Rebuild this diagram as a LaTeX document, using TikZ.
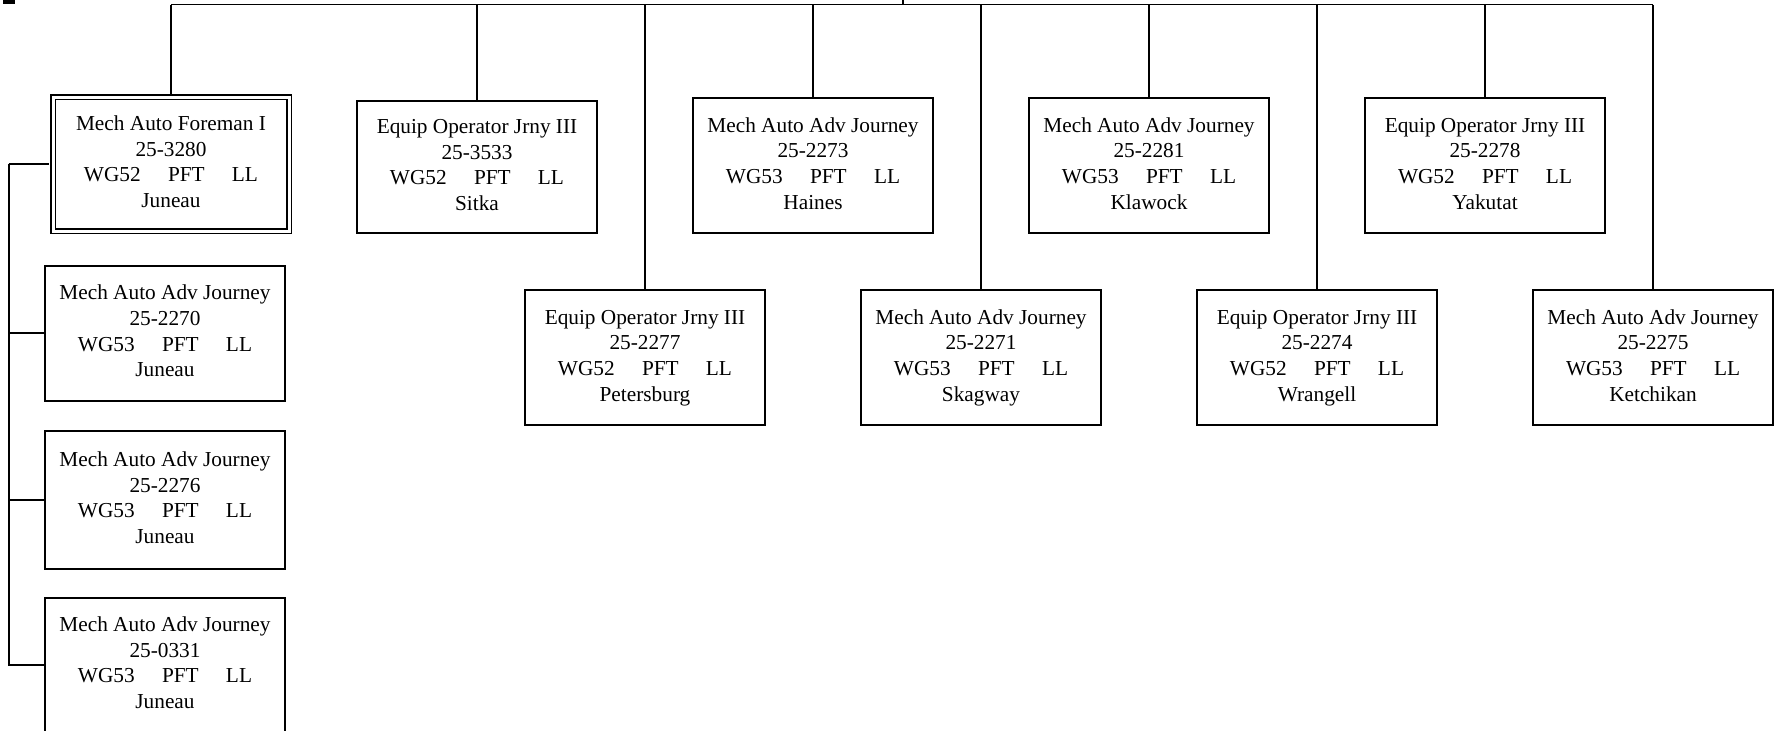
\documentclass[tikz,border=0pt]{standalone}
\usepackage{fontspec}
\setmainfont{Liberation Serif}
\newcommand\jobtext[4]{\begin{tabular}[t]{@{}c@{}}#1\\#2\\\mbox{#3\hspace{1.28em}PFT\hspace{1.28em}LL}\\#4\end{tabular}}
\begin{document}
\begin{tikzpicture}[x=0.5pt,y=-0.5pt,
  box/.style={draw, line width=1pt, rectangle, inner sep=0pt,
    minimum width=120pt, minimum height=67.5pt,
    font=\fontsize{10.65}{12.8}\selectfont},
  dbox/.style={box, line width=0.75pt, double, double distance=1.5pt,
    minimum width=118pt, minimum height=67pt},
  conn/.style={draw, line width=0.9pt}]
\useasboundingbox (0,0) rectangle (1782,730);
\clip (0,0) rectangle (1782,730);

% small cut-off mark at top-left
\fill (3,0) rectangle (15,3.5);

% nodes
\node[dbox] (fore) at (171,164) {\jobtext{Mech Auto Foreman I}{25-3280}{WG52}{Juneau}};
\node[box, minimum height=66pt] (sitka) at (477,167) {\jobtext{Equip Operator Jrny III}{25-3533}{WG52}{Sitka}};
\node[box] (haines) at (813,165.5) {\jobtext{Mech Auto Adv Journey}{25-2273}{WG53}{Haines}};
\node[box] (klawock) at (1149,165.5) {\jobtext{Mech Auto Adv Journey}{25-2281}{WG53}{Klawock}};
\node[box] (yakutat) at (1485,165.5) {\jobtext{Equip Operator Jrny III}{25-2278}{WG52}{Yakutat}};

\node[box] (peters) at (645,357.5) {\jobtext{Equip Operator Jrny III}{25-2277}{WG52}{Petersburg}};
\node[box] (skagway) at (981,357.5) {\jobtext{Mech Auto Adv Journey}{25-2271}{WG53}{Skagway}};
\node[box] (wrangell) at (1317,357.5) {\jobtext{Equip Operator Jrny III}{25-2274}{WG52}{Wrangell}};
\node[box] (ketch) at (1653,357.5) {\jobtext{Mech Auto Adv Journey}{25-2275}{WG53}{Ketchikan}};

\node[box] (b2270) at (165,333.2) {\jobtext{Mech Auto Adv Journey}{25-2270}{WG53}{Juneau}};
\node[box, minimum height=69pt] (b2276) at (165,500) {\jobtext{Mech Auto Adv Journey}{25-2276}{WG53}{Juneau}};
\node[box] (b0331) at (165,665) {\jobtext{Mech Auto Adv Journey}{25-0331}{WG53}{Juneau}};

% bus and parent connector
\coordinate (bus) at (0,4.5);
\coordinate (up) at (903,-5);
\coordinate (lv) at (8.7,0);
\draw[conn] (up) -- (up |- bus);
\draw[conn] (fore.north |- bus) -- (ketch.north |- bus);
\foreach \n in {fore,sitka,haines,klawock,yakutat,peters,skagway,wrangell,ketch}
  \draw[conn] (\n.north |- bus) -- (\n.north);

% left column
\draw[conn, shorten >=1.5pt] (fore.west -| lv) -- (fore.west);
\draw[conn] (fore.west -| lv) -- (b0331.west -| lv) -- (b0331.west);
\draw[conn] (b2270.west -| lv) -- (b2270.west);
\draw[conn] (b2276.west -| lv) -- (b2276.west);
\end{tikzpicture}
\end{document}
